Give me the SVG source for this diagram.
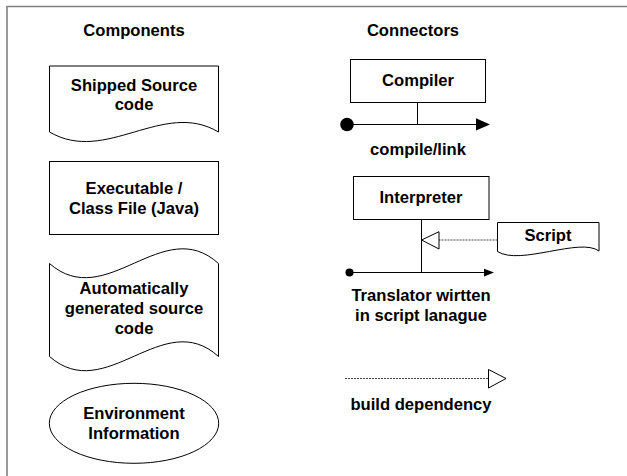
<svg xmlns="http://www.w3.org/2000/svg" width="627" height="476" viewBox="0 0 627 476">
  <style>
    .shape { fill: #fff; stroke: #000; stroke-width: 1; }
    .line { fill: none; stroke: #000; stroke-width: 1; }
    .dep { fill: none; stroke: #444; stroke-width: 1; stroke-dasharray: 2 1; }
    .open { fill: #fff; stroke: #000; stroke-width: 1; }
    .solid { fill: #000; stroke: none; }
    text { font-family: "Liberation Sans", Arial, sans-serif; font-weight: bold; font-size: 16.6px; fill: #000; text-anchor: middle; }
  </style>

  <rect width="627" height="476" fill="#fff"/>
  <!-- page frame (left and top edges) -->
  <path d="M7,476 V6.5 H627" fill="none" stroke="#808080" stroke-width="1.6"/>

  <!-- column headings -->
  <text x="134" y="36">Components</text>
  <text x="413" y="36">Connectors</text>

  <!-- components legend -->
  <g id="shipped-source">
    <path class="shape" d="M49.5,66 H218.5 V132 C163,99 106,165 49.5,132 Z"/>
    <text x="134" y="90.5">Shipped Source</text>
    <text x="134" y="110">code</text>
  </g>

  <g id="executable">
    <rect class="shape" x="49.5" y="161.5" width="169" height="73"/>
    <text x="134" y="193.5">Executable /</text>
    <text x="134" y="213.5">Class File (Java)</text>
  </g>

  <g id="generated-source">
    <path class="shape" d="M49.5,263.5 C106,313 163,213 218.5,263.5 V356.5 C163,306 106,406 49.5,356.5 Z"/>
    <text x="134" y="294">Automatically</text>
    <text x="134" y="314">generated source</text>
    <text x="134" y="334">code</text>
  </g>

  <g id="environment">
    <ellipse class="shape" cx="134" cy="423.3" rx="84.7" ry="40"/>
    <text x="134" y="418.5">Environment</text>
    <text x="134" y="438.5">Information</text>
  </g>

  <!-- connectors legend: boxes -->
  <g id="compiler">
    <rect class="shape" x="350.5" y="59.5" width="135" height="43"/>
    <text x="418" y="86">Compiler</text>
  </g>

  <g id="interpreter">
    <rect class="shape" x="353.5" y="176.5" width="135.5" height="43"/>
    <text x="421" y="202.5">Interpreter</text>
  </g>

  <g id="script">
    <path class="shape" d="M497.5,222.5 H599 V251 C580,237 520,266 497.5,251.5 Z"/>
    <text x="548" y="240.5">Script</text>
  </g>

  <g id="connectors">
    <!-- compile/link -->
    <path class="line" d="M417.5,102.5 V124.5 M347,124.5 H477"/>
    <circle class="solid" cx="347" cy="124.5" r="6.8"/>
    <polygon class="solid" points="476,118.3 490,124.5 476,130.5"/>

    <!-- translator written in script language -->
    <path class="line" d="M421.5,219.5 V272.5 M349.5,272.5 H485"/>
    <circle class="solid" cx="349.5" cy="272.5" r="4"/>
    <polygon class="solid" points="484,268.8 494,272.5 484,276.5"/>

    <!-- script dependency into interpreter -->
    <path class="dep" d="M497.5,240 H439"/>
    <polygon class="open" points="439,231.7 421.5,240 439,249"/>

    <!-- build dependency sample -->
    <path class="dep" d="M345,378.5 H488.5"/>
    <polygon class="open" points="488.5,369.5 506,378.5 488.5,388"/>
  </g>

  <!-- connector captions -->
  <text x="418" y="155">compile/link</text>
  <text x="421" y="300.5">Translator wirtten</text>
  <text x="421" y="320.5">in script lanague</text>
  <text x="421" y="409.5">build dependency</text>
</svg>
